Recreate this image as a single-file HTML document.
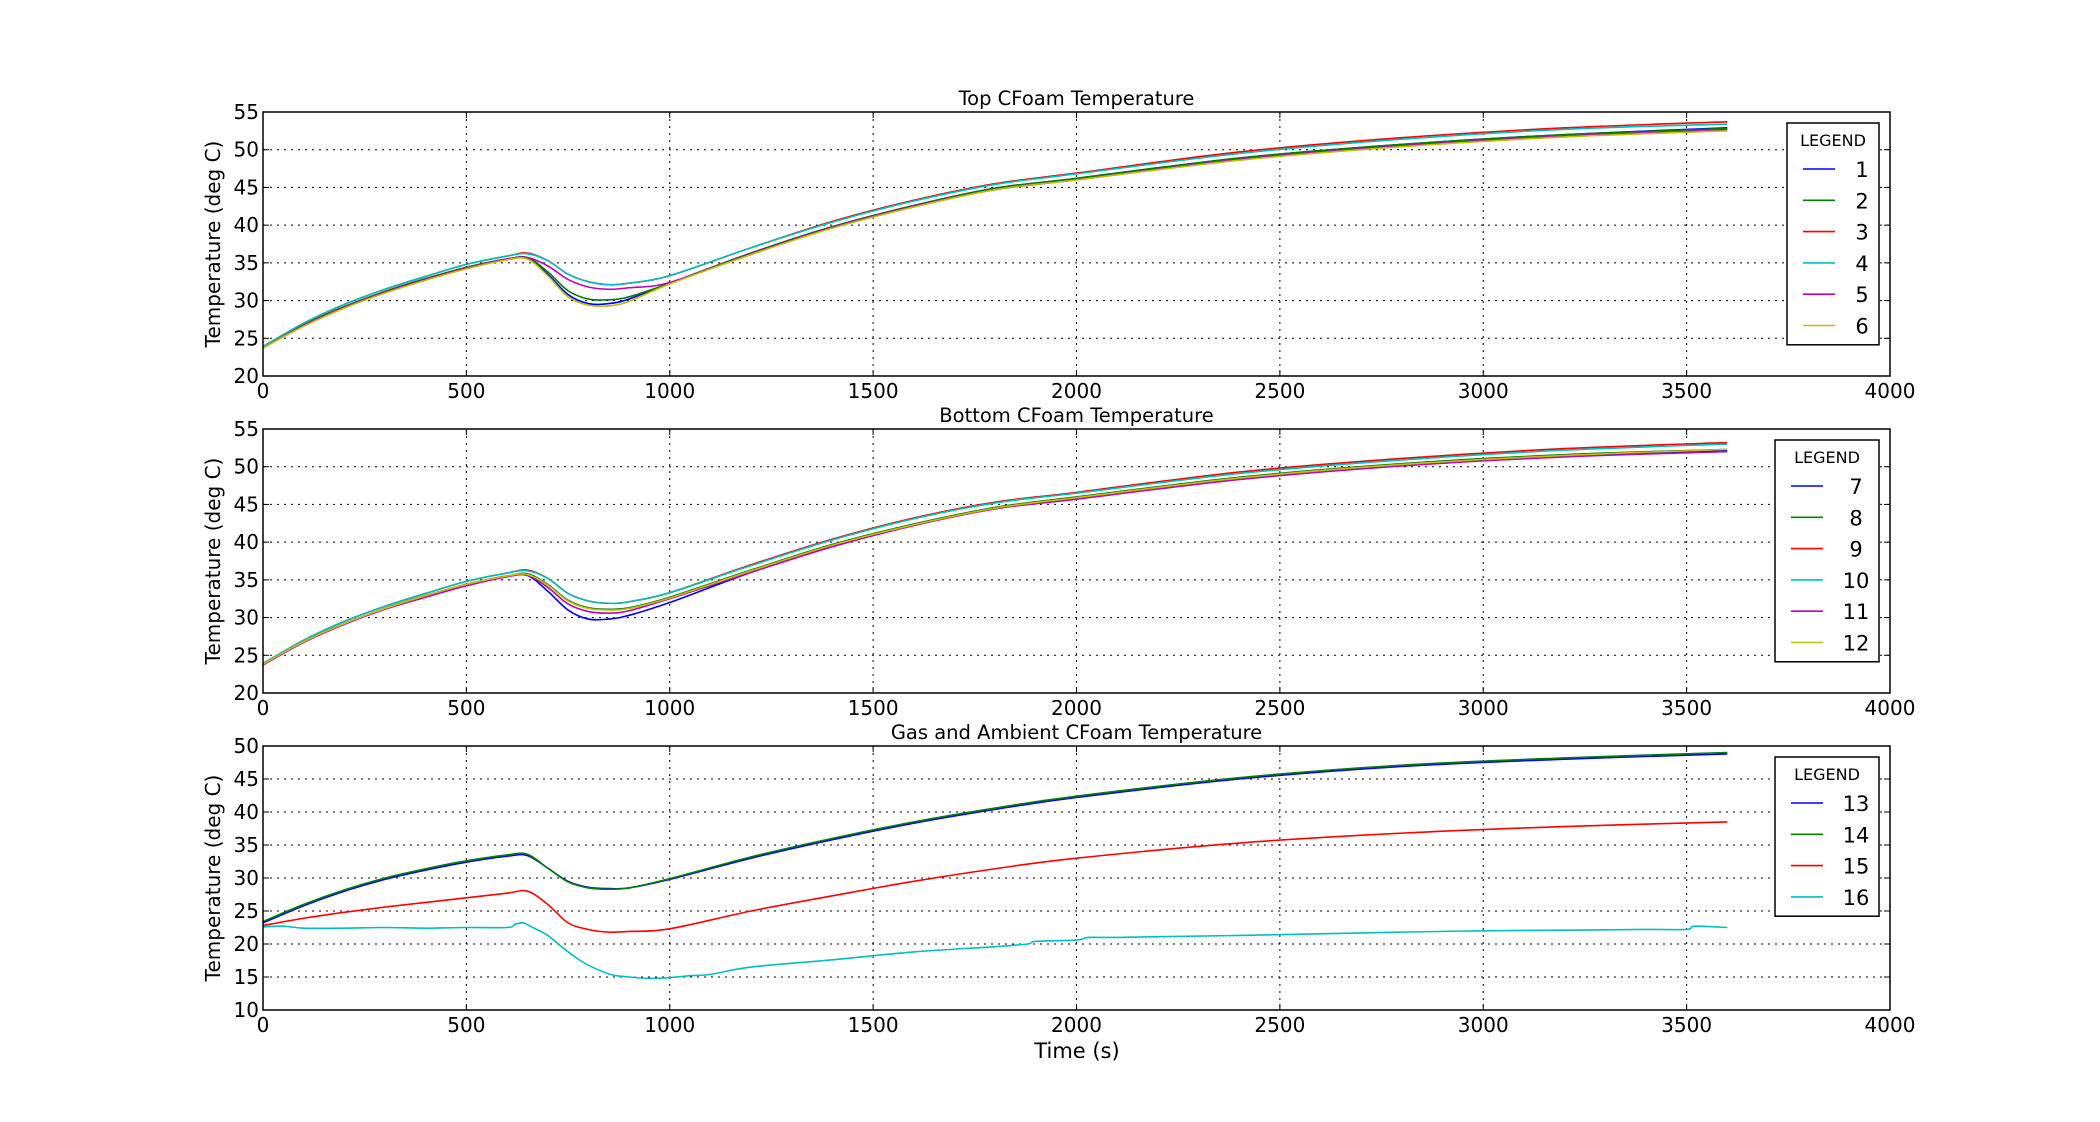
<!DOCTYPE html>
<html><head><meta charset="utf-8">
<style>
html,body{margin:0;padding:0;background:#fff;}
svg{display:block;}
text{font-family:"DejaVu Sans","Liberation Sans",sans-serif;fill:#000;}
</style></head>
<body>
<svg id="chart" width="2100" height="1122" viewBox="0 0 2100 1122" xmlns="http://www.w3.org/2000/svg"></svg>
<script>
const T = [0,100,200,300,400,500,600,650,700,750,800,850,900,1000,1200,1400,1600,1800,2000,2400,2800,3200,3600];
const xTicks = [0,500,1000,1500,2000,2500,3000,3500,4000];
const yTicksA = [20,25,30,35,40,45,50,55];
const yTicksC = [10,15,20,25,30,35,40,45,50];
const topNames = ['1','2','3','4','5','6'];
const botNames = ['7','8','9','10','11','12'];
const gasNames = ['13','14','15','16'];
const s1 = [23.8,26.8,29.2,31.2,32.9,34.4,35.5,35.6,33.5,30.8,29.6,29.6,30.2,32.3,36.3,39.8,42.6,44.9,46.2,48.9,50.7,52.0,52.9];
const s2 = [23.8,26.8,29.2,31.2,32.9,34.4,35.5,35.7,33.8,31.3,30.2,30.1,30.5,32.3,36.3,39.8,42.6,44.9,46.2,48.9,50.7,52.0,52.8];
const s3 = [23.9,27.0,29.5,31.5,33.2,34.8,35.9,36.3,35.3,33.5,32.5,32.1,32.3,33.3,37.0,40.5,43.3,45.5,46.9,49.7,51.6,52.9,53.7];
const s4 = [23.9,27.0,29.5,31.5,33.2,34.8,35.9,36.2,35.3,33.5,32.5,32.1,32.3,33.3,37.0,40.4,43.2,45.4,46.8,49.5,51.4,52.7,53.4];
const s5 = [23.7,26.7,29.1,31.1,32.8,34.3,35.5,35.7,34.6,32.8,31.8,31.5,31.7,32.4,36.2,39.7,42.5,44.7,46.0,48.7,50.5,51.8,52.6];
const s6 = [23.7,26.6,29.0,31.0,32.7,34.2,35.4,35.5,33.3,30.5,29.4,29.3,29.9,32.2,36.1,39.6,42.4,44.7,46.0,48.6,50.4,51.7,52.5];
const s7 = [23.8,26.8,29.2,31.2,32.9,34.4,35.5,35.6,33.5,31.0,29.8,29.8,30.3,32.0,36.0,39.5,42.3,44.5,45.9,48.5,50.3,51.4,52.1];
const s8 = [23.8,26.8,29.2,31.2,32.9,34.4,35.5,35.8,34.4,32.3,31.3,31.1,31.3,32.7,36.3,39.7,42.4,44.6,46.0,48.6,50.4,51.6,52.3];
const s9 = [23.9,27.0,29.5,31.5,33.2,34.8,35.9,36.3,35.2,33.2,32.2,31.9,32.1,33.3,37.0,40.4,43.2,45.3,46.6,49.3,51.1,52.4,53.2];
const s10 = [23.9,27.0,29.5,31.5,33.2,34.8,35.9,36.2,35.2,33.2,32.2,31.9,32.1,33.3,36.9,40.3,43.1,45.2,46.5,49.1,50.9,52.2,53.0];
const s11 = [23.7,26.7,29.1,31.1,32.7,34.2,35.4,35.6,34.0,31.8,30.8,30.6,30.9,32.5,36.0,39.4,42.2,44.4,45.7,48.3,50.1,51.3,52.0];
const s12 = [23.8,26.8,29.2,31.2,32.9,34.4,35.5,35.7,34.3,32.2,31.2,31.0,31.2,32.6,36.2,39.6,42.3,44.5,45.9,48.5,50.3,51.5,52.3];
const s13 = [23.2,25.8,28.0,29.8,31.2,32.4,33.3,33.4,31.5,29.5,28.6,28.4,28.5,29.8,33.0,35.8,38.3,40.4,42.2,45.0,46.9,48.0,48.8];
const s14 = [23.4,26.0,28.2,30.0,31.4,32.6,33.5,33.6,31.5,29.4,28.5,28.3,28.5,29.9,33.2,36.0,38.5,40.6,42.4,45.2,47.1,48.2,49.0];
const s15 = [22.8,23.9,24.8,25.6,26.3,27.0,27.7,28.0,26.0,23.2,22.2,21.8,21.9,22.3,25.0,27.3,29.5,31.4,33.0,35.3,36.8,37.8,38.5];
const T16 = [0,50,100,200,300,400,500,600,620,640,660,700,740,780,820,860,900,950,1000,1050,1100,1200,1400,1600,1800,1880,1900,2000,2030,2100,2400,2800,3000,3200,3400,3500,3520,3600];
const s16 = [22.6,22.7,22.4,22.4,22.5,22.4,22.5,22.5,23.0,23.2,22.6,21.3,19.3,17.5,16.2,15.3,15.0,14.8,14.9,15.2,15.4,16.5,17.6,18.8,19.6,20.0,20.4,20.6,21.0,21.0,21.3,21.8,22.0,22.1,22.2,22.2,22.7,22.5];
const colors = ['#0000ff','#008000','#ff0000','#00bfbf','#bf00bf','#bfbf00'];

const NS='http://www.w3.org/2000/svg';
const svg=document.getElementById('chart');
function mk(tag,attrs,parent){const e=document.createElementNS(NS,tag);for(const k in attrs)e.setAttribute(k,attrs[k]);(parent||svg).appendChild(e);return e;}
const L=263,R=1890,H=264;
function path(xs,ys,sx,sy){
  const p=xs.map((x,i)=>[sx(x),sy(ys[i])]);
  let d='M'+p[0][0].toFixed(2)+','+p[0][1].toFixed(2);
  for(let i=0;i<p.length-1;i++){
    const p0=p[Math.max(0,i-1)],p1=p[i],p2=p[i+1],p3=p[Math.min(p.length-1,i+2)];
    const c1=[p1[0]+(p2[0]-p0[0])/6,p1[1]+(p2[1]-p0[1])/6];
    const c2=[p2[0]-(p3[0]-p1[0])/6,p2[1]-(p3[1]-p1[1])/6];
    d+='C'+c1[0].toFixed(2)+','+c1[1].toFixed(2)+' '+c2[0].toFixed(2)+','+c2[1].toFixed(2)+' '+p2[0].toFixed(2)+','+p2[1].toFixed(2);
  }
  return d;
}
function panel(id,top,yTicks,title,series,names,leg){
  const ymin=yTicks[0],ymax=yTicks[yTicks.length-1];
  const sx=v=>L+(v-0)/4000*(R-L);
  const sy=v=>top+H-(v-ymin)/(ymax-ymin)*H;
  const g=mk('g',{});
  
  
  xTicks.forEach(t=>{
    const x=sx(t);
    if(t>0&&t<4000){const gl=mk('line',{x1:x,x2:x,y1:top,y2:top+H,stroke:'#000','stroke-width':1,'stroke-dasharray':'2,5'},g);
      }
    mk('line',{x1:x,x2:x,y1:top+H,y2:top+H-6,stroke:'#000'},g);
    mk('line',{x1:x,x2:x,y1:top,y2:top+6,stroke:'#000'},g);
    const tx=mk('text',{x:x,y:top+H+22,'font-size':20,'text-anchor':'middle'},g);tx.textContent=t;
    
  });
  yTicks.forEach(t=>{
    const y=sy(t);
    if(t>ymin&&t<ymax){const gl=mk('line',{x1:L,x2:R,y1:y,y2:y,stroke:'#000','stroke-width':1,'stroke-dasharray':'2,5'},g);
      }
    mk('line',{x1:L,x2:L+6,y1:y,y2:y,stroke:'#000'},g);
    mk('line',{x1:R,x2:R-6,y1:y,y2:y,stroke:'#000'},g);
    const tx=mk('text',{x:L-4,y:y+7,'font-size':20,'text-anchor':'end'},g);tx.textContent=t;
    
  });
  series.forEach((s,i)=>{
    const p=mk('path',{d:path(s[0],s[1],sx,sy),fill:'none',stroke:colors[i],'stroke-width':1.6},g);
    
    
  });
  const fr=mk('rect',{x:L,y:top,width:R-L,height:H,fill:'none',stroke:'#000','stroke-width':1.5},g);
  
  const ti=mk('text',{x:(L+R)/2,y:top-7,'font-size':19.5,'text-anchor':'middle'},g);ti.textContent=title;
  
  const yl=mk('text',{x:0,y:0,'font-size':20,'text-anchor':'middle',transform:'translate(220,'+(top+H/2)+') rotate(-90)'},g);yl.textContent='Temperature (deg C)';
  
  const lg=mk('g',{},g);
  
  const lh=34+names.length*31.3;
  mk('rect',{x:leg,y:top+11,width:1879-leg,height:lh,fill:'#fff',stroke:'#000','stroke-width':1.5},lg);
  const lt=mk('text',{x:(leg+1879)/2,y:top+34,'font-size':16,'text-anchor':'middle'},lg);lt.textContent='LEGEND';
  
  names.forEach((n,i)=>{
    const y=top+57+i*31.3;
    const e=mk('g',{},lg);
    
    
    mk('line',{x1:leg+16,x2:leg+48,y1:y,y2:y,stroke:colors[i],'stroke-width':1.6},e);
    const t=mk('text',{x:(leg+1879)/2+29,y:y+8,'font-size':21,'text-anchor':'middle'},e);t.textContent=n;
  });
}
panel('top',112,yTicksA,'Top CFoam Temperature',[s1,s2,s3,s4,s5,s6].map(s=>[T,s]),topNames,1787);
panel('bottom',429,yTicksA,'Bottom CFoam Temperature',[s7,s8,s9,s10,s11,s12].map(s=>[T,s]),botNames,1775);
panel('gas',746,yTicksC,'Gas and Ambient CFoam Temperature',[[T,s13],[T,s14],[T,s15],[T16,s16]],gasNames,1775);
const xl=mk('text',{x:1077,y:1058,'font-size':21,'text-anchor':'middle'});xl.textContent='Time (s)';


</script>
</body></html>
